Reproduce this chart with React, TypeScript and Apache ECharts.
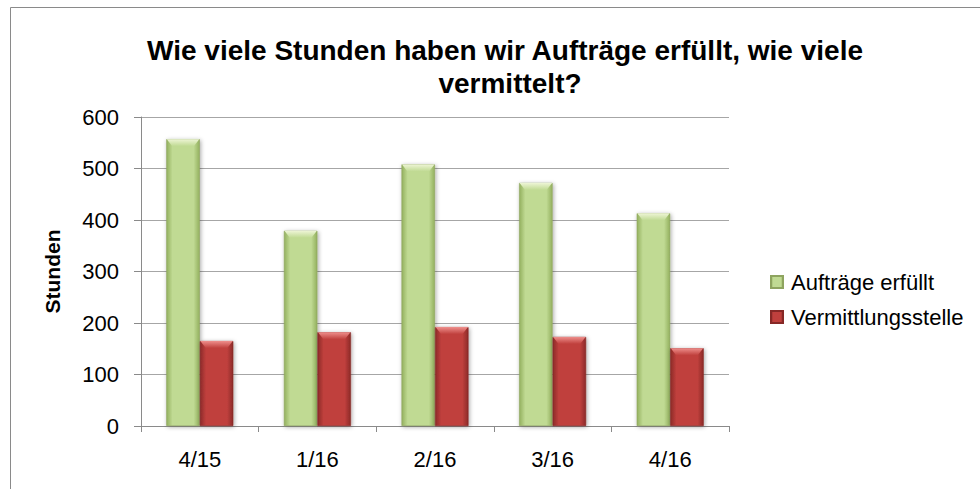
import React, { useEffect, useRef } from "react";
import * as echarts from "echarts";

const categories = ["4/15", "1/16", "2/16", "3/16", "4/16"];
const auftraegeErfuellt = [557, 379, 508, 472, 413];
const vermittlungsstelle = [165, 182, 192, 173, 151];
const seriesNames = ["Aufträge erfüllt", "Vermittlungsstelle"];
const titleLine1 = "Wie viele Stunden haben wir Aufträge erfüllt, wie viele";
const titleLine2 = "vermittelt?";
const yAxisName = "Stunden";

const FONT = "'Liberation Sans', Arial, sans-serif";
const CAT_GAP = 0.43;

function hGrad(edge: string, mid: string) {
  return new echarts.graphic.LinearGradient(0, 0, 1, 0, [
    { offset: 0, color: edge },
    { offset: 0.18, color: mid },
    { offset: 0.82, color: mid },
    { offset: 1, color: edge },
  ]);
}

function bevel(seriesIndex: number, light: string, base: string) {
  return (params: any, api: any) => {
    const pt = api.coord([api.value(0), api.value(1)]);
    const base0 = api.coord([api.value(0), 0]);
    const band = api.size([1, 0])[0];
    const barW = (band * (1 - CAT_GAP)) / 2;
    const left = seriesIndex === 0 ? pt[0] - barW : pt[0];
    const h = Math.min(7, base0[1] - pt[1]);
    const inset = 6;
    return {
      type: "polygon",
      shape: {
        points: [
          [left + 0.5, pt[1]],
          [left + barW - 0.5, pt[1]],
          [left + barW - inset, pt[1] + h],
          [left + inset, pt[1] + h],
        ],
      },
      style: {
        fill: new echarts.graphic.LinearGradient(0, 0, 0, 1, [
          { offset: 0, color: light },
          { offset: 1, color: base },
        ]),
      },
      silent: true,
    };
  };
}

export default function App() {
  const ref = useRef<HTMLDivElement>(null);
  useEffect(() => {
    if (!ref.current) return;
    const chart = echarts.init(ref.current, null, { renderer: "svg" });
    chart.setOption({
      animation: false,
      backgroundColor: "#ffffff",
      textStyle: { fontFamily: FONT },
      title: [
        {
          text: titleLine1,
          left: 500,
          top: 31,
          textAlign: "center",
          textStyle: { fontFamily: FONT, fontSize: 28, fontWeight: "bold", color: "#000" },
        },
        {
          text: titleLine2,
          left: 505,
          top: 64,
          textAlign: "center",
          textStyle: { fontFamily: FONT, fontSize: 28, fontWeight: "bold", color: "#000" },
        },
      ],
      graphic: [
        {
          type: "rect",
          shape: { x: 10.5, y: 7.5, width: 1000, height: 1000 },
          style: { fill: "none", stroke: "#8a8a8a", lineWidth: 1 },
          silent: true,
        },
      ],
      legend: {
        orient: "vertical",
        left: 765,
        top: 266,
        itemWidth: 12,
        itemHeight: 12,
        itemGap: 13,
        icon: "rect",
        textStyle: { fontFamily: FONT, fontSize: 22, color: "#000", padding: [0, 0, 0, 3] },
        data: seriesNames,
      },
      grid: { left: 141, right: 251, top: 117, bottom: 63, containLabel: false },
      xAxis: {
        type: "category",
        data: categories,
        axisLine: { lineStyle: { color: "#8a8a8a" } },
        axisTick: { show: true, length: 6, lineStyle: { color: "#8a8a8a" } },
        axisLabel: { fontFamily: FONT, fontSize: 22, color: "#000", margin: 22 },
      },
      yAxis: {
        type: "value",
        min: 0,
        max: 600,
        interval: 100,
        name: yAxisName,
        nameLocation: "middle",
        nameRotate: 90,
        nameGap: 78,
        nameTextStyle: { fontFamily: FONT, fontSize: 21, fontWeight: "bold", color: "#000" },
        axisLine: { show: true, lineStyle: { color: "#8a8a8a" } },
        axisTick: { show: true, length: 7, lineStyle: { color: "#8a8a8a" } },
        axisLabel: { fontFamily: FONT, fontSize: 22, color: "#000", margin: 22 },
        splitLine: { show: true, lineStyle: { color: "#a6a6a6", width: 1 } },
      },
      series: [
        {
          name: seriesNames[0],
          type: "bar",
          data: auftraegeErfuellt,
          barGap: "0%",
          barCategoryGap: CAT_GAP * 100 + "%",
          itemStyle: {
            color: hGrad("#93b05e", "#c0da93"),
            borderColor: "#8ea45f",
            borderWidth: 0.6,
            shadowColor: "rgba(0,0,0,0.35)",
            shadowBlur: 4,
            shadowOffsetX: 1,
            shadowOffsetY: 1,
          },
        },
        {
          name: seriesNames[1],
          type: "bar",
          data: vermittlungsstelle,
          itemStyle: {
            color: hGrad("#8c2a28", "#c0403d"),
            borderColor: "#862826",
            borderWidth: 0.6,
            shadowColor: "rgba(0,0,0,0.35)",
            shadowBlur: 4,
            shadowOffsetX: 1,
            shadowOffsetY: 1,
          },
        },
        {
          name: "bevel-a",
          type: "custom",
          data: auftraegeErfuellt.map((v, i) => [i, v]),
          encode: { x: 0, y: 1 },
          renderItem: bevel(0, "#eef5d6", "#c0da93"),
          z: 3,
          silent: true,
        },
        {
          name: "bevel-b",
          type: "custom",
          data: vermittlungsstelle.map((v, i) => [i, v]),
          encode: { x: 0, y: 1 },
          renderItem: bevel(1, "#ee8f8c", "#c0403d"),
          z: 3,
          silent: true,
        },
      ],
    });
    return () => chart.dispose();
  }, []);
  return (
    <div
      ref={ref}
      style={{ position: "absolute", left: 0, top: 0, width: 980, height: 489 }}
    />
  );
}
